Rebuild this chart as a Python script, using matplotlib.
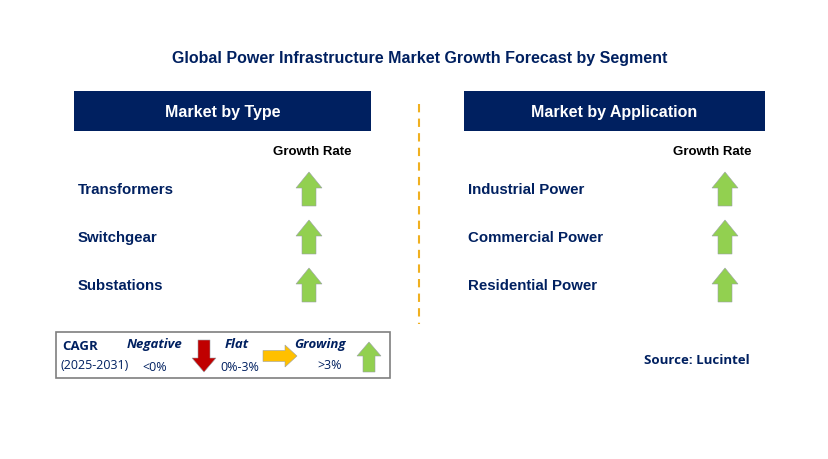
import matplotlib.pyplot as plt
from matplotlib.patches import Rectangle, Polygon

TITLE = "Global Power Infrastructure Market Growth Forecast by Segment"
type_segments = ["Transformers", "Switchgear", "Substations"]
type_growth = ["up", "up", "up"]
app_segments = ["Industrial Power", "Commercial Power", "Residential Power"]
app_growth = ["up", "up", "up"]
row_y = [190, 238, 286]

NAVY = "#002060"
GREEN = "#92D050"
RED = "#C00000"
ORANGE = "#FFC000"

fig = plt.figure(figsize=(8.29, 4.6), dpi=100)
ax = fig.add_axes([0, 0, 1, 1])
ax.set_xlim(0, 829)
ax.set_ylim(460, 0)
ax.axis("off")


def arrow(cx, cy, direction, color, w=26, h=34, shaft=14, head=16):
    # arrow in pixel coords; direction up/down/right
    if direction == "up":
        t, b = cy - h / 2, cy + h / 2
        pts = [(cx, t), (cx + w / 2, t + head), (cx + shaft / 2, t + head), (cx + shaft / 2, b),
               (cx - shaft / 2, b), (cx - shaft / 2, t + head), (cx - w / 2, t + head)]
    elif direction == "down":
        t, b = cy - h / 2, cy + h / 2
        pts = [(cx, b), (cx + w / 2, b - head), (cx + shaft / 2, b - head), (cx + shaft / 2, t),
               (cx - shaft / 2, t), (cx - shaft / 2, b - head), (cx - w / 2, b - head)]
    else:
        l, r = cx - h / 2, cx + h / 2
        pts = [(r, cy), (r - head, cy - w / 2), (r - head, cy - shaft / 2), (l, cy - shaft / 2),
               (l, cy + shaft / 2), (r - head, cy + shaft / 2), (r - head, cy + w / 2)]
    ax.add_patch(Polygon(pts, closed=True, facecolor=color, edgecolor="#9aa0a6", lw=0.4))


ax.text(420, 58, TITLE, ha="center", va="center", fontsize=11.5, fontweight="bold",
        color=NAVY, family="Liberation Sans")


def panel(x0, x1, header, segs, growth, arrow_x, label_x):
    ax.add_patch(Rectangle((x0, 92), x1 - x0, 40, facecolor=NAVY, edgecolor="none"))
    ax.text((x0 + x1) / 2, 112, header, ha="center", va="center", fontsize=11.5,
            fontweight="bold", color="white", family="Liberation Sans")
    ax.text(label_x, 152, "Growth Rate", ha="center", va="center", fontsize=9.5,
            fontweight="bold", color="black", family="Liberation Sans")
    for s, g, y in zip(segs, growth, row_y):
        ax.text(x0 + 4, y, s, ha="left", va="center", fontsize=10.8, fontweight="bold",
                color=NAVY, family="Liberation Sans")
        arrow(arrow_x, y, g, GREEN if g == "up" else RED)


panel(74, 371, "Market by Type", type_segments, type_growth, 309, 312)
panel(464, 765, "Market by Application", app_segments, app_growth, 725, 712)

ax.plot([419, 419], [105, 325], ls=(0, (4, 3)), color="#F0B020", lw=1.5)

# legend box
ax.add_patch(Rectangle((56, 333), 334, 46, facecolor="white", edgecolor="#7f7f7f", lw=1.2))
lf = dict(family="Open Sans", color=NAVY)
ax.text(62, 347, "CAGR", fontsize=9.5, fontweight="bold", va="center", **lf)
ax.text(61, 366, "(2025-2031)", fontsize=9, va="center", **lf)
ax.text(155, 345, "Negative", fontsize=9.5, fontweight="bold", style="italic", ha="center", va="center", **lf)
ax.text(155, 368, "<0%", fontsize=9, ha="center", va="center", **lf)
arrow(204, 357, "down", RED, w=24, h=32, shaft=12, head=14)
ax.text(237, 345, "Flat", fontsize=9.5, fontweight="bold", style="italic", ha="center", va="center", **lf)
ax.text(240, 368, "0%-3%", fontsize=9, ha="center", va="center", **lf)
arrow(280, 357, "right", ORANGE, w=22, h=34, shaft=11, head=12)
ax.text(320, 345, "Growing", fontsize=9.5, fontweight="bold", style="italic", ha="center", va="center", **lf)
ax.text(330, 366, ">3%", fontsize=9, ha="center", va="center", **lf)
arrow(369, 358, "up", GREEN, w=24, h=30, shaft=12, head=14)

ax.text(750, 361, "Source: Lucintel", ha="right", va="center", fontsize=9.5,
        fontweight="bold", color=NAVY, family="Open Sans")

fig.savefig("out.png", dpi=100)
